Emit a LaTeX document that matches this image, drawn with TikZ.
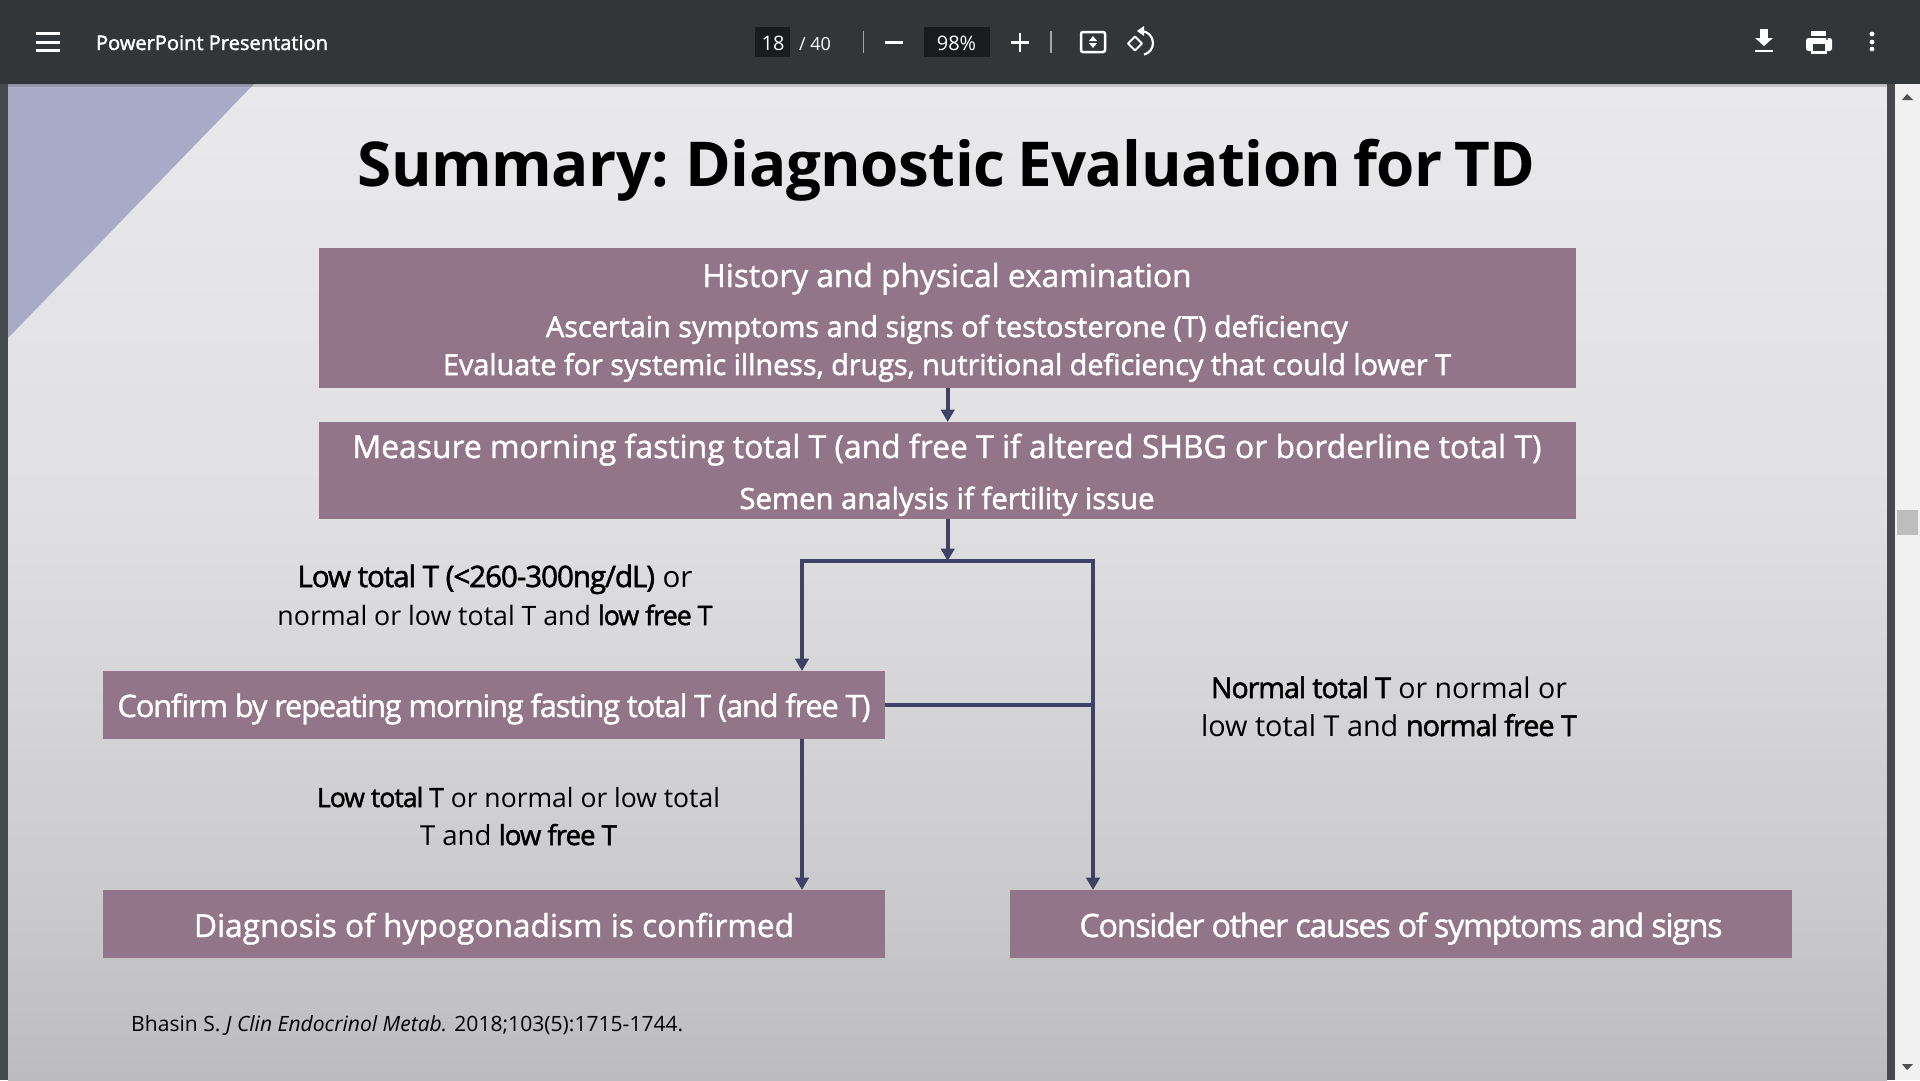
\documentclass[tikz,border=0pt]{standalone}
\usepackage{fontspec}
\usepackage{graphicx}
\usetikzlibrary{arrows.meta}
\setmainfont{Open Sans}
\newfontfamily\semi[FakeBold=1.8]{Open Sans}
\newfontfamily\light[FakeBold=1.3]{Open Sans}
\newfontfamily\tightbox[FakeBold=1.3,LetterSpace=-4]{Open Sans}
\newfontfamily\medfont[FakeBold=1.8,LetterSpace=-3.5]{Open Sans}
\newfontfamily\titlefont[WordSpace=0.75,LetterSpace=-0.8]{Open Sans Bold}
\definecolor{barcol}{HTML}{323639}
\definecolor{fieldcol}{HTML}{191B1C}
\definecolor{boxcol}{HTML}{927589}
\definecolor{linecol}{HTML}{3F4266}
\definecolor{wedgecol}{HTML}{A9AAC8}
\definecolor{stripcol}{HTML}{474A4C}
\definecolor{scrollcol}{HTML}{F1F1F1}
\definecolor{thumbcol}{HTML}{BDBDBD}
\definecolor{arrowgrey}{HTML}{505050}
\definecolor{bgone}{HTML}{E9E9EB}
\definecolor{bgtwo}{HTML}{E0E0E2}
\definecolor{bgthree}{HTML}{CACACC}
\definecolor{bgfour}{HTML}{BCBCBE}
\newcommand{\wt}[2]{\resizebox{#1pt}{!}{#2}}
\newcommand{\bb}[1]{{\medfont #1}}
\tikzset{
  flowbox/.style={draw=none,fill=boxcol,inner sep=0pt,anchor=north west},
  boxtext/.style={text=white,inner sep=0pt,anchor=base,font=\light\fontsize{30}{30}\selectfont},
  tighttext/.style={text=white,inner sep=0pt,anchor=base,font=\tightbox\fontsize{30}{30}\selectfont},
  subtext/.style={text=white,inner sep=0pt,anchor=base,font=\semi\fontsize{26}{26}\selectfont},
  labeltext/.style={text=black,inner sep=0pt,anchor=base,font=\fontsize{28}{28}\selectfont},
  flow/.style={draw=linecol,line width=4pt},
  flowarrow/.style={flow,-{Triangle[length=12.5pt,width=13.5pt]}},
  bartext/.style={text=white,inner sep=0pt,anchor=base,font=\semi\fontsize{20}{20}\selectfont},
  icon/.style={fill=white,draw=none},
  iconline/.style={draw=white,line width=2.5pt},
}
\begin{document}
\begin{tikzpicture}[x=1pt,y=-1pt]
\useasboundingbox (0,0) rectangle (1920,1080);
% page
\fill[top color=bgone,bottom color=bgtwo] (8,84) rectangle (1887,500);
\fill[top color=bgtwo,bottom color=bgthree] (8,499.5) rectangle (1887,900);
\fill[top color=bgthree,bottom color=bgfour] (8,899.5) rectangle (1887,1080);
\fill[wedgecol] (8,84) -- (254,84) -- (8,338) -- cycle;
\fill[stripcol] (0,84) rectangle (8,1080);
\fill[stripcol] (1887,84) rectangle (1895,1080);
\fill[scrollcol] (1895,84) rectangle (1920,1080);
\fill[thumbcol] (1897,510) rectangle (1918,535);
\fill[arrowgrey] (1907,94) -- (1913,100) -- (1902,100) -- cycle;
\fill[arrowgrey] (1907,1070) -- (1913,1064) -- (1902,1064) -- cycle;
% toolbar
\fill[barcol] (0,0) rectangle (1920,84);
\fill[top color=black!45,bottom color=bgone,opacity=.15] (8,84) rectangle (1887,87);
\foreach \yy in {33,42,50} \fill[icon] (36,\yy-1.5) rectangle (60,\yy+1.5);
\node[bartext] (doctitle) at (212,50) {\wt{232}{PowerPoint Presentation}};
\fill[fieldcol] (755,27) rectangle (790,57);
\node[bartext,font=\fontsize{20}{20}\selectfont] (pagenum) at (773,50) {18};
\node[bartext,font=\fontsize{18}{18}\selectfont] (pagetotal) at (815,50) {/ 40};
\fill[white!55!barcol] (862.5,31) rectangle (864,53);
\fill[icon] (885,41) rectangle (903,43.5);
\fill[fieldcol] (924,27) rectangle (990,57);
\node[bartext,font=\fontsize{20}{20}\selectfont] (zoomval) at (956.5,50) {98\%};
\fill[icon] (1011,41) rectangle (1029,43.5);
\fill[icon] (1018.7,33) rectangle (1021.3,51.5);
\fill[white!55!barcol] (1050,31) rectangle (1051.5,53);
\draw[iconline,rounded corners=2pt] (1081,32) rectangle (1105,52);
\fill[icon] (1093,36) -- (1097,41) -- (1089,41) -- cycle;
\fill[icon] (1093,48) -- (1097,43) -- (1089,43) -- cycle;
\draw[draw=white,line width=2pt,line join=round] (1128,43.5) -- (1135,36.5) -- (1142,43.5) -- (1135,50.5) -- cycle;
\draw[iconline,line width=2.2pt] (1141,31) arc[start angle=-90,delta angle=165,radius=12] ;
\fill[icon] (1144,26) -- (1144,36) -- (1137,31) -- cycle;
\fill[icon] (1760,29) rectangle (1768,38);
\fill[icon] (1755,38) -- (1773,38) -- (1764,46) -- cycle;
\fill[icon] (1755,49.5) rectangle (1773,52);
\fill[icon] (1811,31) rectangle (1826,36);
\fill[icon,rounded corners=2.5pt] (1806,38) rectangle (1832,51);
\fill[icon] (1811,47) rectangle (1827,53.5);
\fill[barcol] (1813,44) rectangle (1825,51);
\fill[barcol] (1827,39) circle[radius=1.2];
\foreach \yy in {34,42,49} \fill[icon] (1872,\yy) circle[radius=2.4];
% title
\node[inner sep=0pt,anchor=base,text=black,font=\titlefont\fontsize{66}{66}\selectfont] (title) at (946.5,186) {\wt{1178}{Summary: Diagnostic Evaluation for TD}};
% boxes
\node[flowbox,minimum width=1257pt,minimum height=140pt] (hist) at (319,248) {};
\node[flowbox,minimum width=1257pt,minimum height=97pt] (meas) at (319,422) {};
\node[flowbox,minimum width=782pt,minimum height=68pt] (conf) at (103,671) {};
\node[flowbox,minimum width=782pt,minimum height=67.5pt] (diag) at (103,890) {};
\node[flowbox,minimum width=782pt,minimum height=67.5pt] (cause) at (1010,890) {};
% box texts
\node[boxtext] (h1) at (947,287) {\wt{489}{History and physical examination}};
\node[subtext] (h2) at (947,337) {\wt{802}{Ascertain symptoms and signs of testosterone (T) deficiency}};
\node[subtext] (h3) at (947,375) {\wt{1008}{Evaluate for systemic illness, drugs, nutritional deficiency that could lower T}};
\node[boxtext] (m1) at (947,458) {\wt{1189}{Measure morning fasting total T (and free T if altered SHBG or borderline total T)}};
\node[subtext] (m2) at (947,509) {\wt{415}{Semen analysis if fertility issue}};
\node[tighttext] (c1) at (494,717) {\wt{753}{Confirm by repeating morning fasting total T (and free T)}};
\node[boxtext] (d1) at (494,937) {\wt{600}{Diagnosis of hypogonadism is confirmed}};
\node[tighttext] (o1) at (1401,937) {\wt{643}{Consider other causes of symptoms and signs}};
% labels
\node[labeltext] (l1) at (495,587) {\wt{395}{\bb{Low total T (<260-300ng/dL)} or}};
\node[labeltext] (l2) at (495,625) {\wt{435}{normal or low total T and \bb{low free T}}};
\node[labeltext] (l3) at (518.5,807) {\wt{403}{\bb{Low total T} or normal or low total}};
\node[labeltext] (l4) at (518.5,845) {\wt{197}{T and \bb{low free T}}};
\node[labeltext] (r1) at (1389,698) {\wt{356}{\bb{Normal total T} or normal or}};
\node[labeltext] (r2) at (1389,736) {\wt{376}{low total T and \bb{normal free T}}};
\node[inner sep=0pt,anchor=base west,text=black,font=\fontsize{22}{22}\selectfont] (cite) at (131,1031) {\wt{552}{Bhasin S. \textit{J Clin Endocrinol Metab.} 2018;103(5):1715-1744.}};
% connectors
\coordinate (jt) at (hist.south |- 0,561);
\coordinate (jl) at (802,561);
\coordinate (jr) at (1093,561);
\coordinate (jm) at (1093,705);
\draw[flowarrow] (hist.south) -- (meas.north);
\draw[flowarrow] (meas.south) -- (jt);
\draw[flow,line cap=rect] (jl) -- (jr);
\draw[flowarrow] (jl) -- (jl |- conf.north);
\draw[flowarrow] (jr) -- (jr |- cause.north);
\draw[flow] (conf.east |- jm) -- (jm);
\draw[flowarrow] (jl |- conf.south) -- (jl |- diag.north);
\end{tikzpicture}
\end{document}
